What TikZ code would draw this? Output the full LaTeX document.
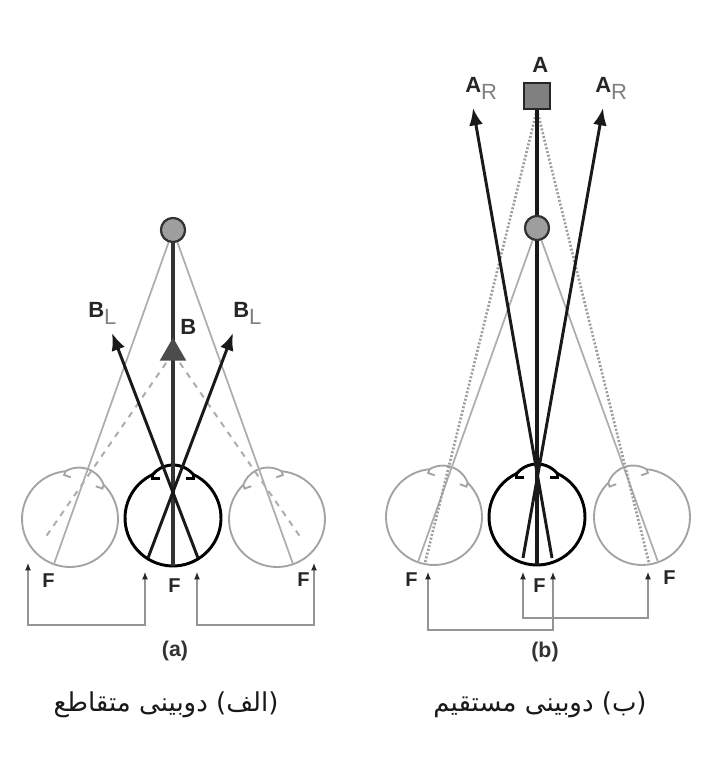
\documentclass[tikz,border=0pt]{standalone}
\usepackage{fontspec}
\setmainfont{Liberation Sans}
\newfontfamily\arabicfont[Script=Arabic]{DejaVu Sans}
\TeXXeTstate=1
\usetikzlibrary{arrows.meta,shapes.geometric}
\definecolor{raygray}{gray}{0.68}
\definecolor{dotgray}{gray}{0.62}
\definecolor{eyegray}{gray}{0.64}
\definecolor{linkgray}{gray}{0.58}
\definecolor{subgray}{gray}{0.50}
\definecolor{ballgray}{gray}{0.62}
\definecolor{boxgray}{gray}{0.50}
\newcommand{\subtag}[1]{{\color{subgray}\mdseries\raisebox{-0.55ex}{#1}}}

\begin{document}
\begin{tikzpicture}[x=0.75pt, y=0.75pt,
  ray/.style={line width=2.2pt, draw=black!90, -{Latex[length=13pt,width=10.5pt]}},
  midline/.style={line width=2.4pt, draw=black!80},
  sight/.style={line width=1.3pt, draw=raygray},
  sightdash/.style={sight, line width=1.5pt, dash pattern=on 4.5pt off 4.5pt},
  sightdot/.style={line width=2pt, draw=dotgray, dash pattern=on 1.5pt off 1.4pt},
  grayeye/.style={color=eyegray, line width=1.4pt},
  blackeye/.style={color=black, line width=2.2pt},
  bracket/.style={draw=linkgray, line width=0.9pt,
    {Latex[length=5.5pt,width=4.5pt,color=black!85]}-{Latex[length=5.5pt,width=4.5pt,color=black!85]}},
  lbl/.style={text=black!85, font=\fontsize{16.5}{18}\selectfont\bfseries, inner sep=0pt, anchor=base west},
  flbl/.style={lbl, font=\fontsize{15}{17}\selectfont\bfseries},
  panel/.style={text=black!80, font=\fontsize{16}{18}\selectfont\bfseries, inner sep=0pt},
  caption/.style={text=black!90, font=\arabicfont\fontsize{19.5}{22}\selectfont, inner sep=0pt},
  ball/.style={circle, draw=black!80, line width=1.6pt, fill=ballgray, minimum size=18pt, inner sep=0pt},
  wedge/.style={regular polygon, regular polygon sides=3, fill=black!70, minimum size=23pt, inner sep=0pt},
  block/.style={rectangle, draw=black!85, line width=1.6pt, fill=boxgray, minimum size=19pt, inner sep=0pt},
  eyeball/.pic={
    \draw (65:48) arc[start angle=65, end angle=-245, radius=48];
    \draw (65:48) arc[start angle=39.8, end angle=140.2, radius=26.4];
    \draw (65:48) |- ++(-7,-4);
    \draw (115:48) |- ++(7,-4);
    \coordinate (-back) at (0,-48);
  }]
\useasboundingbox (0,0) rectangle (706,768);

% ---- panel (a): crossed
\pic[grayeye, rotate=-19.6] (La) at (70,249) {eyeball}; % left eye
\pic[grayeye, rotate=19.6] (Ra) at (277,249) {eyeball}; % right eye
\node[ball] (Ca) at (173,538) {}; % fixation ball
\coordinate (Wa) at (173,415); % wedge B
\coordinate (dLa) at (45,230);
\coordinate (dRa) at (301,230);
\draw[sight] (Ca) -- (La-back);
\draw[sight] (Ca) -- (Ra-back);
\draw[sightdash] (Wa) -- (dLa);
\draw[sightdash] (Wa) -- (dRa);
\pic[blackeye] (Ea) at (173,250) {eyeball}; % cyclopean eye
\draw[midline] (Ca.south) -- (Ea-back);
\coordinate (sLa) at (198,210);
\coordinate (sRa) at (148,210);
\coordinate (tLa) at (112,435);
\coordinate (tRa) at (233,435);
\draw[ray] (sLa) -- (tLa);
\draw[ray] (sRa) -- (tRa);
\node[wedge] (Ta) at (Wa) {};
\node[ball] at (Ca) {};

\node[lbl] (BLa) at (88,450) {B\subtag{L}};
\node[lbl] (BRa) at (233,450) {B\subtag{L}};
\node[lbl] (Bma) at (180,433) {B};
\node[flbl] (F1a) at (42,180) {F};
\node[flbl] (F2a) at (168,175) {F};
\node[flbl] (F3a) at (297,181) {F};

\coordinate (fa1) at (28,205);
\coordinate (fa2) at (145,196);
\coordinate (fa3) at (197,196);
\coordinate (fa4) at (314,205);
\draw[bracket] (fa1) -- ++(0,-62) -| (fa2);
\draw[bracket] (fa3) -- ++(0,-53) -| (fa4);
\node[panel] (Pa) at (175,117) {(a)};

% ---- panel (b): uncrossed
\pic[grayeye, rotate=-19.6] (Lb) at (434,251) {eyeball};
\pic[grayeye, rotate=19.6] (Rb) at (642,251) {eyeball};
\node[block] (Sb) at (537,672) {}; % far target A
\node[ball] (Cb) at (537,540) {};
\coordinate (dLb) at (425,205);
\coordinate (dRb) at (649,205);
\draw[sight] (Cb) -- (Lb-back);
\draw[sight] (Cb) -- (Rb-back);
\draw[sightdot] (Sb.south) -- (dLb);
\draw[sightdot] (Sb.south) -- (dRb);
\pic[blackeye] (Eb) at (537,251) {eyeball};
\draw[midline, draw=black!90] (Sb.south) -- (Eb-back);
\coordinate (sLb) at (552,210);
\coordinate (sRb) at (523,210);
\coordinate (tLb) at (473,660);
\coordinate (tRb) at (603,660);
\draw[ray] (sLb) -- (tLb);
\draw[ray] (sRb) -- (tRb);
\node[ball] at (Cb) {};
\node[block] at (Sb) {};

\node[lbl] (Ab) at (532,695) {A};
\node[lbl] (ALb) at (465,675) {A\subtag{R}};
\node[lbl] (ARb) at (595,675) {A\subtag{R}};
\node[flbl] (F1b) at (405,181) {F};
\node[flbl] (F2b) at (533,175) {F};
\node[flbl] (F3b) at (663,183) {F};

\coordinate (fb1) at (428,196);
\coordinate (fb2) at (523,196);
\coordinate (fb3) at (553,196);
\coordinate (fb4) at (648,196);
\draw[bracket] (fb1) -- ++(0,-58) -| (fb3);
\draw[bracket] (fb2) -- ++(0,-46) -| (fb4);
\node[panel] (Pb) at (545,116) {(b)};

% ---- captions
\node[caption] (capA) at (166,63) {\beginR (الف) دوبینی متقاطع\endR};
\node[caption] (capB) at (540,63) {\beginR (ب) دوبینی مستقیم\endR};
\end{tikzpicture}
\end{document}
